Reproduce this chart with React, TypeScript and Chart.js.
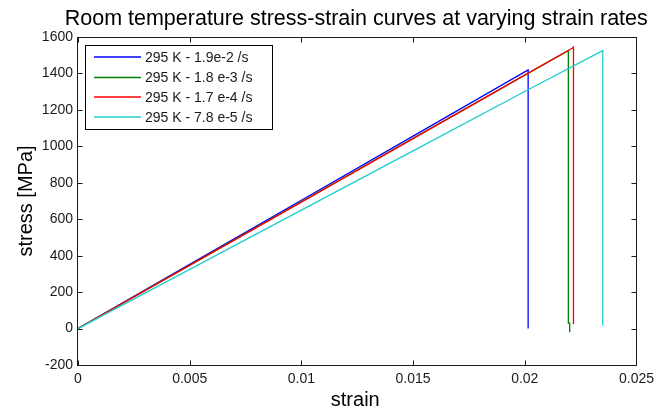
import React, { useEffect, useRef } from 'react';
import { Chart, registerables } from 'chart.js';

Chart.register(...registerables);

const FONT = '"Liberation Sans", Arial, Helvetica, sans-serif';

const titleText = 'Room temperature stress-strain curves at varying strain rates';
const xAxisTitle = 'strain';
const yAxisTitle = 'stress [MPa]';

const xTicks = [0, 0.005, 0.01, 0.015, 0.02, 0.025];
const xTickLabels = ['0', '0.005', '0.01', '0.015', '0.02', '0.025'];
const yTicks = [-200, 0, 200, 400, 600, 800, 1000, 1200, 1400, 1600];
const yTickLabels = ['-200', '0', '200', '400', '600', '800', '1000', '1200', '1400', '1600'];

const seriesLabels = ['295 K - 1.9e-2 /s', '295 K - 1.8 e-3 /s', '295 K - 1.7 e-4 /s', '295 K - 7.8 e-5 /s'];
const seriesColors = ['#0000ff', '#008000', '#ff0000', '#1fcccc'];

const strainBlue = [0, 0.005, 0.01, 0.015, 0.02015, 0.02015];
const stressBlue = [0, 352, 704, 1056, 1419, 0];

const strainGreen = [0, 0.005, 0.01, 0.015, 0.0197, 0.02195, 0.02195, 0.02201, 0.02201];
const stressGreen = [0, 348, 696, 1044, 1370, 1525, 30, 30, -20];

const strainRed = [0, 0.005, 0.01, 0.015, 0.0197, 0.02212, 0.02218, 0.02218];
const stressRed = [0, 347, 694, 1042, 1370, 1538, 1544, 25];

const strainCyan = [0, 0.005, 0.01, 0.015, 0.0201, 0.02349, 0.02349];
const stressCyan = [0, 325, 650, 975, 1308, 1525, 16];

const allStrain = [strainBlue, strainGreen, strainRed, strainCyan];
const allStress = [stressBlue, stressGreen, stressRed, stressCyan];

const decorPlugin = {
  id: 'decor',
  afterDraw(chart: any) {
    const { ctx, chartArea, scales } = chart;
    const { left, right, top, bottom } = chartArea;
    const xs = scales.x;
    const ys = scales.y;
    ctx.save();
    // box
    const L = Math.round(left) - 0.5;
    const R = Math.round(right) + 0.5;
    const T = Math.round(top) + 0.5;
    const B = Math.round(bottom) + 0.5;
    ctx.strokeStyle = '#1a1a1a';
    ctx.lineWidth = 1;
    ctx.strokeRect(L, T, R - L, B - T);
    // inward ticks
    ctx.beginPath();
    xTicks.forEach((v) => {
      const px = Math.round(xs.getPixelForValue(v)) + 0.5;
      ctx.moveTo(px, B);
      ctx.lineTo(px, B - 5);
      ctx.moveTo(px, T);
      ctx.lineTo(px, T + 5);
    });
    yTicks.forEach((v) => {
      const py = Math.round(ys.getPixelForValue(v)) + 0.5;
      ctx.moveTo(L, py);
      ctx.lineTo(L + 5, py);
      ctx.moveTo(R, py);
      ctx.lineTo(R - 5, py);
    });
    ctx.stroke();

    // title
    ctx.fillStyle = '#000';
    ctx.font = `21.5px ${FONT}`;
    ctx.textAlign = 'center';
    ctx.textBaseline = 'alphabetic';
    const cx = (left + right) / 2;
    ctx.fillText(titleText, cx - 1, 25);
    // x axis title
    ctx.font = `20px ${FONT}`;
    ctx.fillText(xAxisTitle, cx - 2, 406);
    // y axis title
    ctx.save();
    ctx.translate(32, (top + bottom) / 2);
    ctx.rotate(-Math.PI / 2);
    ctx.fillText(yAxisTitle, 0, 0);
    ctx.restore();

    // legend
    const lx = 85.5, ly = 45.5, lw = 187, lh = 84;
    ctx.fillStyle = '#fff';
    ctx.fillRect(lx, ly, lw, lh);
    ctx.strokeStyle = '#000';
    ctx.strokeRect(lx, ly, lw, lh);
    ctx.font = `14px ${FONT}`;
    ctx.textAlign = 'left';
    ctx.textBaseline = 'middle';
    const rows = [57, 77.5, 97, 117];
    seriesLabels.forEach((lab, i) => {
      ctx.strokeStyle = seriesColors[i];
      ctx.lineWidth = 1.3;
      ctx.beginPath();
      ctx.moveTo(94, rows[i]);
      ctx.lineTo(141, rows[i]);
      ctx.stroke();
      ctx.fillStyle = '#1a1a1a';
      ctx.fillText(lab, 145, rows[i] + 1);
    });
    ctx.restore();
  },
};

export default function App() {
  const ref = useRef<HTMLCanvasElement>(null);
  useEffect(() => {
    document.body.style.margin = '0';
    const canvas = ref.current;
    if (!canvas) return;
    const datasets = seriesLabels.map((label, i) => ({
      label,
      data: allStrain[i].map((x, j) => ({ x, y: allStress[i][j] })),
      showLine: true,
      borderColor: seriesColors[i],
      backgroundColor: seriesColors[i],
      borderWidth: 1.3,
      pointRadius: 0,
      fill: false,
      tension: 0,
      order: 4 - i,
    }));
    const chart = new Chart(canvas, {
      type: 'scatter',
      data: { datasets },
      options: {
        responsive: false,
        animation: false,
        devicePixelRatio: 1,
        layout: { padding: { top: 37, right: 20, left: 0, bottom: 0 } },
        plugins: {
          legend: { display: false },
          title: { display: false },
          tooltip: { enabled: false },
        },
        scales: {
          x: {
            type: 'linear',
            min: 0,
            max: 0.025,
            afterBuildTicks: (s: any) => {
              s.ticks = xTicks.map((v) => ({ value: v }));
            },
            afterFit: (s: any) => {
              s.height = 48;
            },
            ticks: {
              callback: (_v: any, i: number) => xTickLabels[i],
              font: { family: FONT, size: 14 },
              color: '#1a1a1a',
              padding: 6,
              maxRotation: 0,
              autoSkip: false,
            },
            grid: { display: false, drawTicks: false },
            border: { display: false },
          },
          y: {
            type: 'linear',
            min: -200,
            max: 1600,
            afterBuildTicks: (s: any) => {
              s.ticks = yTicks.map((v) => ({ value: v }));
            },
            afterFit: (s: any) => {
              s.width = 78;
            },
            ticks: {
              callback: (_v: any, i: number) => yTickLabels[i],
              font: { family: FONT, size: 14 },
              color: '#1a1a1a',
              padding: 5,
              autoSkip: false,
            },
            grid: { display: false, drawTicks: false },
            border: { display: false },
          },
        },
      },
      plugins: [decorPlugin],
    } as any);
    return () => chart.destroy();
  }, []);
  return (
    <div style={{ position: 'absolute', left: 0, top: 0, width: 660, height: 413 }}>
      <canvas ref={ref} width={660} height={413} style={{ display: 'block', width: 660, height: 413 }} />
    </div>
  );
}
